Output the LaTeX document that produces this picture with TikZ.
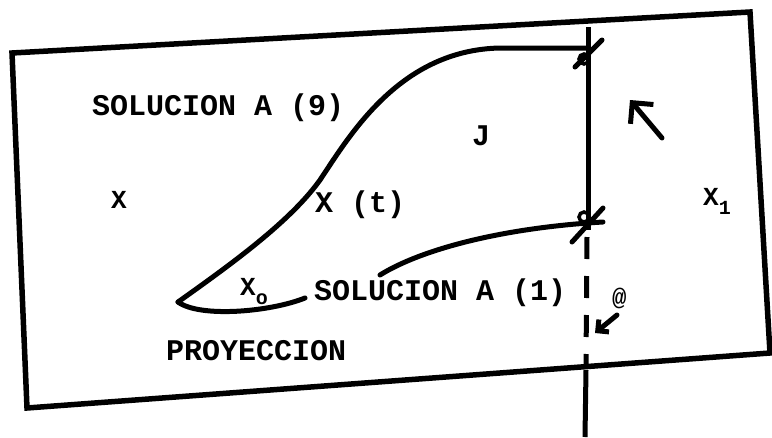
\documentclass[tikz,border=0pt]{standalone}
\usepackage{fontspec}
\newfontfamily\dotfont{Liberation Mono}
\usetikzlibrary{arrows.meta}
\newcommand{\subidx}[1]{\raisebox{-9pt}{\fontsize{20}{20}\selectfont #1}}
\tikzset{
  rotulo/.style={font=\dotfont\bfseries\fontsize{30}{30}\selectfont,inner sep=0pt,anchor=base west},
  letra/.style={font=\dotfont\bfseries\fontsize{26}{26}\selectfont,inner sep=0pt,anchor=base west},
  marco/.style={line width=5.5pt,line join=miter},
  curva/.style={line width=5pt,line cap=round},
  eje/.style={line width=5pt},
  flecha/.style={line width=5pt,line cap=round,-{Straight Barb[length=15pt,width=30pt]}}
}

\begin{document}
\begin{tikzpicture}[x=1pt,y=-1pt]
\useasboundingbox (0,0) rectangle (772,437);
\draw[marco] (12,53) -- (750,12) -- (770,353) -- (27,408) -- cycle;

\coordinate (ejetop) at (588,27);
\coordinate (cruce1) at (588,48);
\coordinate (cruce2) at (588,224);
\coordinate (dashini) at (587,237);
\coordinate (dashfin) at (586,364);
\coordinate (ejebase) at (586,370);
\coordinate (ejefin) at (585,437);
\draw[eje] (ejetop) -- (cruce2) -- ++(0,6);
\draw[eje,dash pattern=on 22pt off 17pt] (dashini) -- (dashfin);
\draw[eje] (ejebase) -- (ejefin);

\coordinate (cusp) at (178,302);
\coordinate (cola0) at (305,298);
\coordinate (ini2) at (380,275);
\coordinate (fin2) at (603,222);
\draw[curva] (cusp) .. controls (230,265) and (290,222) .. (320,180)
  .. controls (350,135) and (400,50) .. (500,48) -- (cruce1);
\draw[curva] (cusp) .. controls (200,318) and (270,312) .. (cola0);
\draw[curva] (ini2) .. controls (420,250) and (500,228) .. (fin2);

\draw[curva] (575,67) -- (602,40);
\draw[line width=3.5pt] (584,59) circle (5);
\draw[curva] (572,242) -- (603,208);
\draw[line width=3.5pt] (584,217) circle (5);

\coordinate (cola1) at (662,138);
\coordinate (punta1) at (630,100);
\coordinate (cola2) at (617,315);
\coordinate (punta2) at (595,333);
\draw[flecha] (cola1) -- (punta1);
\draw[flecha,-{Straight Barb[length=8pt,width=16pt]}] (cola2) -- (punta2);

\node[rotulo] (sol9) at (92,115) {SOLUCION A (9)};
\node[letra] (xlab) at (111,208) {X};
\node[rotulo] (xt) at (315,212) {X (t)};
\node[rotulo] (jlab) at (472,145) {J};
\node[letra] (xone) at (703,205) {X\subidx{1}};
\node[letra] (xcero) at (240,295) {X\subidx{o}};
\node[rotulo] (sol1) at (314,300) {SOLUCION A (1)};
\node[letra,font=\dotfont\bfseries\fontsize{24}{24}\selectfont] (arroba) at (612,305) {@};
\node[rotulo] (proy) at (166,360) {PROYECCION};
\end{tikzpicture}
\end{document}
